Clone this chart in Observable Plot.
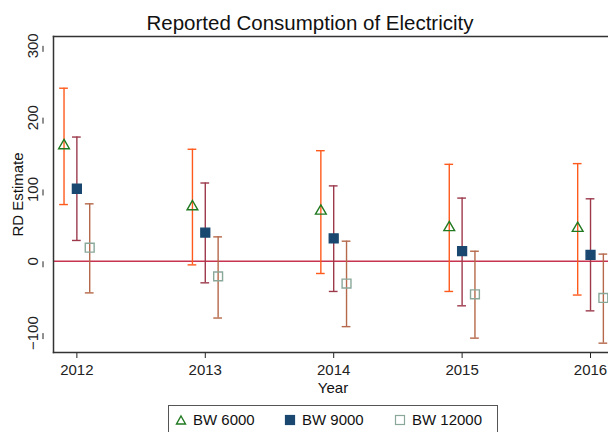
<!DOCTYPE html>
<html>
<head>
<meta charset="utf-8">
<script src="https://cdn.jsdelivr.net/npm/d3@7"></script>
<script src="https://cdn.jsdelivr.net/npm/@observablehq/plot@0.6"></script>
<style>
  body { margin: 0; background: #fff; }
  #wrap { position: relative; width: 608px; height: 432px; overflow: hidden; font-family: "Liberation Sans", Arial, sans-serif; }
  #chart text { font-size: 15px; font-family: "Liberation Sans", Arial, sans-serif; }
  #title { position: absolute; left: 0; width: 620px; top: 11px; text-align: center; font-size: 20.5px; color: #111; }
  #legend { position: absolute; left: 168px; top: 405px; width: 330px; height: 40px; border: 1px solid #555; box-sizing: border-box;
            font-size: 15px; color: #111; }
  #legend span.item { position: absolute; top: 5px; white-space: nowrap; }
  #legend svg { vertical-align: -1px; margin-right: 6px; }
</style>
</head>
<body>
<div id="wrap">
  <div id="chart"></div>
  <div id="title">Reported Consumption of Electricity</div>
  <div id="legend"></div>
</div>
<script>
// values
const years = [2012, 2013, 2014, 2015, 2016];

const est6000 = [161, 76, 70, 47, 46];
const lo6000 = [79, -5, -17, -42, -47];
const hi6000 = [241, 156, 154, 135, 136];

const est9000 = [101, 40, 32, 14, 9];
const lo9000 = [29, -30, -42, -62, -69];
const hi9000 = [173, 109, 105, 88, 87];

const est12000 = [19, -21, -31, -46, -51];
const lo12000 = [-44, -79, -91, -107, -114];
const hi12000 = [80, 34, 28, 14, 10];

const yTicks = [-100, 0, 100, 200, 300];

const series = [
  {name: "BW 6000", est: est6000, lo: lo6000, hi: hi6000, off: -0.1, ci: "#ff5a1c", mark: "#217a21", symbol: "triangle", fill: "none", r: 4},
  {name: "BW 9000", est: est9000, lo: lo9000, hi: hi9000, off: 0, ci: "#9c3a4c", mark: "#1a476f", symbol: "square", fill: "#1a476f", r: 5},
  {name: "BW 12000", est: est12000, lo: lo12000, hi: hi12000, off: 0.1, ci: "#b5684a", mark: "#8aa89a", symbol: "square", fill: "none", r: 5}
];

let rows = [];
series.forEach(s => {
  years.forEach((yr, i) => {
    rows.push({series: s.name, x: yr + s.off, est: s.est[i], lo: s.lo[i], hi: s.hi[i]});
  });
});

const cap = 0.034; // half-width of the whisker caps, in years

let marks = [
  Plot.ruleY([0], {stroke: "#c8334f", strokeWidth: 1.5}),
];
series.forEach(s => {
  let d = rows.filter(r => r.series == s.name);
  marks.push(
    Plot.ruleX(d, {x: "x", y1: "lo", y2: "hi", stroke: s.ci, strokeWidth: 1.4}),
    Plot.ruleY(d, {y: "lo", x1: r => r.x - cap, x2: r => r.x + cap, stroke: s.ci, strokeWidth: 1.4}),
    Plot.ruleY(d, {y: "hi", x1: r => r.x - cap, x2: r => r.x + cap, stroke: s.ci, strokeWidth: 1.4}),
    Plot.dot(d, {x: "x", y: "est", symbol: s.symbol, r: s.r, stroke: s.mark, fill: s.fill, strokeWidth: 1.4})
  );
});

marks.push(
  Plot.axisY({ticks: yTicks, tickFormat: "d", tickSize: 6, tickPadding: 4, rotate: -90, textAnchor: "middle", dx: -10, label: null}),
  Plot.axisX({ticks: years, tickFormat: "d", tickSize: 6, tickPadding: 6, label: null}),
  Plot.frame({anchor: "left", stroke: "#333", strokeWidth: 1.5}),
  Plot.frame({anchor: "top", stroke: "#333", strokeWidth: 1.5}),
  Plot.frame({anchor: "bottom", stroke: "#333", strokeWidth: 1.5}),
  Plot.text(["RD Estimate"], {frameAnchor: "left", rotate: -90, dx: -35, textAnchor: "middle", fill: "#111"}),
  Plot.text(["Year"], {frameAnchor: "bottom", dy: 36, dx: 2, lineAnchor: "middle", fill: "#111"})
);

let chart = Plot.plot({
  width: 608,
  height: 432,
  marginTop: 36,
  marginBottom: 80,
  marginLeft: 53,
  marginRight: 0,
  style: {fontFamily: "Liberation Sans, Arial, sans-serif", color: "#222", overflow: "visible"},
  x: {domain: [2011.818, 2016.14]},
  y: {domain: [-127, 313]},
  marks
});

d3.select("#chart").append(() => chart);

// legend
const legendX = [6, 115, 225];
const leg = d3.select("#legend");
series.forEach((s, i) => {
  let item = leg.append("span").attr("class", "item").style("left", legendX[i] + "px");
  let svg = item.append("svg").attr("width", 12).attr("height", 12);
  if (s.symbol == "triangle") {
    svg.append("path").attr("d", "M6,2L10.5,10H1.5Z").attr("fill", "none").attr("stroke", s.mark).attr("stroke-width", 1.4);
  } else {
    svg.append("rect").attr("x", 1.5).attr("y", 1.5).attr("width", 9).attr("height", 9)
      .attr("fill", s.fill).attr("stroke", s.mark).attr("stroke-width", 1.2);
  }
  item.append("span").text(s.name);
});
</script>
</body>
</html>
